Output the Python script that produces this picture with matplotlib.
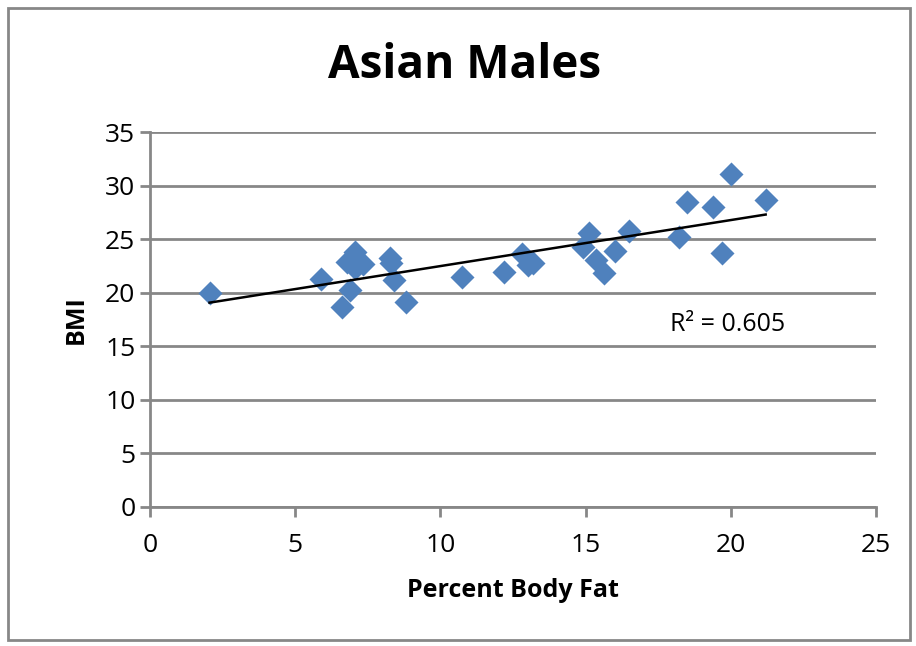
import matplotlib.pyplot as plt
import numpy as np

# percent body fat vs BMI
body_fat = [2.05, 5.9, 6.6, 6.9, 6.8, 7.05, 7.05, 7.35, 8.25, 8.3, 8.4, 8.8,
            10.75, 12.2, 12.8, 13.0, 13.2, 14.9, 15.1, 15.35, 15.65, 16.0,
            16.5, 18.2, 18.5, 19.4, 19.7, 20.0, 21.2]
bmi = [20.0, 21.3, 18.7, 20.3, 22.9, 23.8, 22.3, 22.7, 23.2, 22.8, 21.2, 19.1,
       21.5, 21.9, 23.6, 22.6, 22.8, 24.3, 25.6, 23.1, 21.8, 23.9,
       25.8, 25.2, 28.5, 28.0, 23.7, 31.1, 28.7]
r2_label = "R² = 0.605"

plt.rcParams['font.family'] = ['Open Sans', 'DejaVu Sans']

fig = plt.figure(figsize=(9.16, 6.46), dpi=100)
ax = fig.add_axes([150 / 916, 1 - 507 / 646, 726 / 916, 375 / 646])

grey = '#878787'
ax.scatter(body_fat, bmi, marker='D', s=150, color='#4F81BD', zorder=3,
           linewidths=0)

# linear trend line over the data range
x = np.array(body_fat)
slope, icept = np.polyfit(x, np.array(bmi), 1)
xs = np.array([x.min(), x.max()])
ax.plot(xs, slope * xs + icept, color='black', lw=1.8, zorder=4)

ax.text(17.9, 17.0, r2_label, fontsize=18, va='center', ha='left')

ax.set_xlim(0, 25)
ax.set_ylim(0, 35)
ax.set_xticks(range(0, 26, 5))
ax.set_yticks(range(0, 36, 5))
ax.yaxis.grid(True, color=grey, lw=2)
ax.set_axisbelow(True)
for s in ['top', 'right']:
    ax.spines[s].set_visible(False)
for s in ['left', 'bottom']:
    ax.spines[s].set_color(grey)
    ax.spines[s].set_linewidth(2)
ax.tick_params(colors=grey, width=2, length=7, labelsize=19,
               labelcolor='black')
ax.tick_params(axis='x', pad=12)

ax.set_xlabel('Percent Body Fat', fontsize=18, fontweight='bold', labelpad=14)
ax.set_ylabel('BMI', fontsize=18, fontweight='bold', labelpad=12)
fig.text(465 / 916, 1 - 65 / 646, 'Asian Males', fontsize=33,
         fontweight='bold', ha='center', va='center')

# outer chart border
fig.patches.append(plt.Rectangle((8 / 916, 6 / 646), 902 / 916, 632 / 646,
                                 transform=fig.transFigure, fill=False,
                                 edgecolor=grey, lw=2))

fig.savefig('out.png', dpi=100)
